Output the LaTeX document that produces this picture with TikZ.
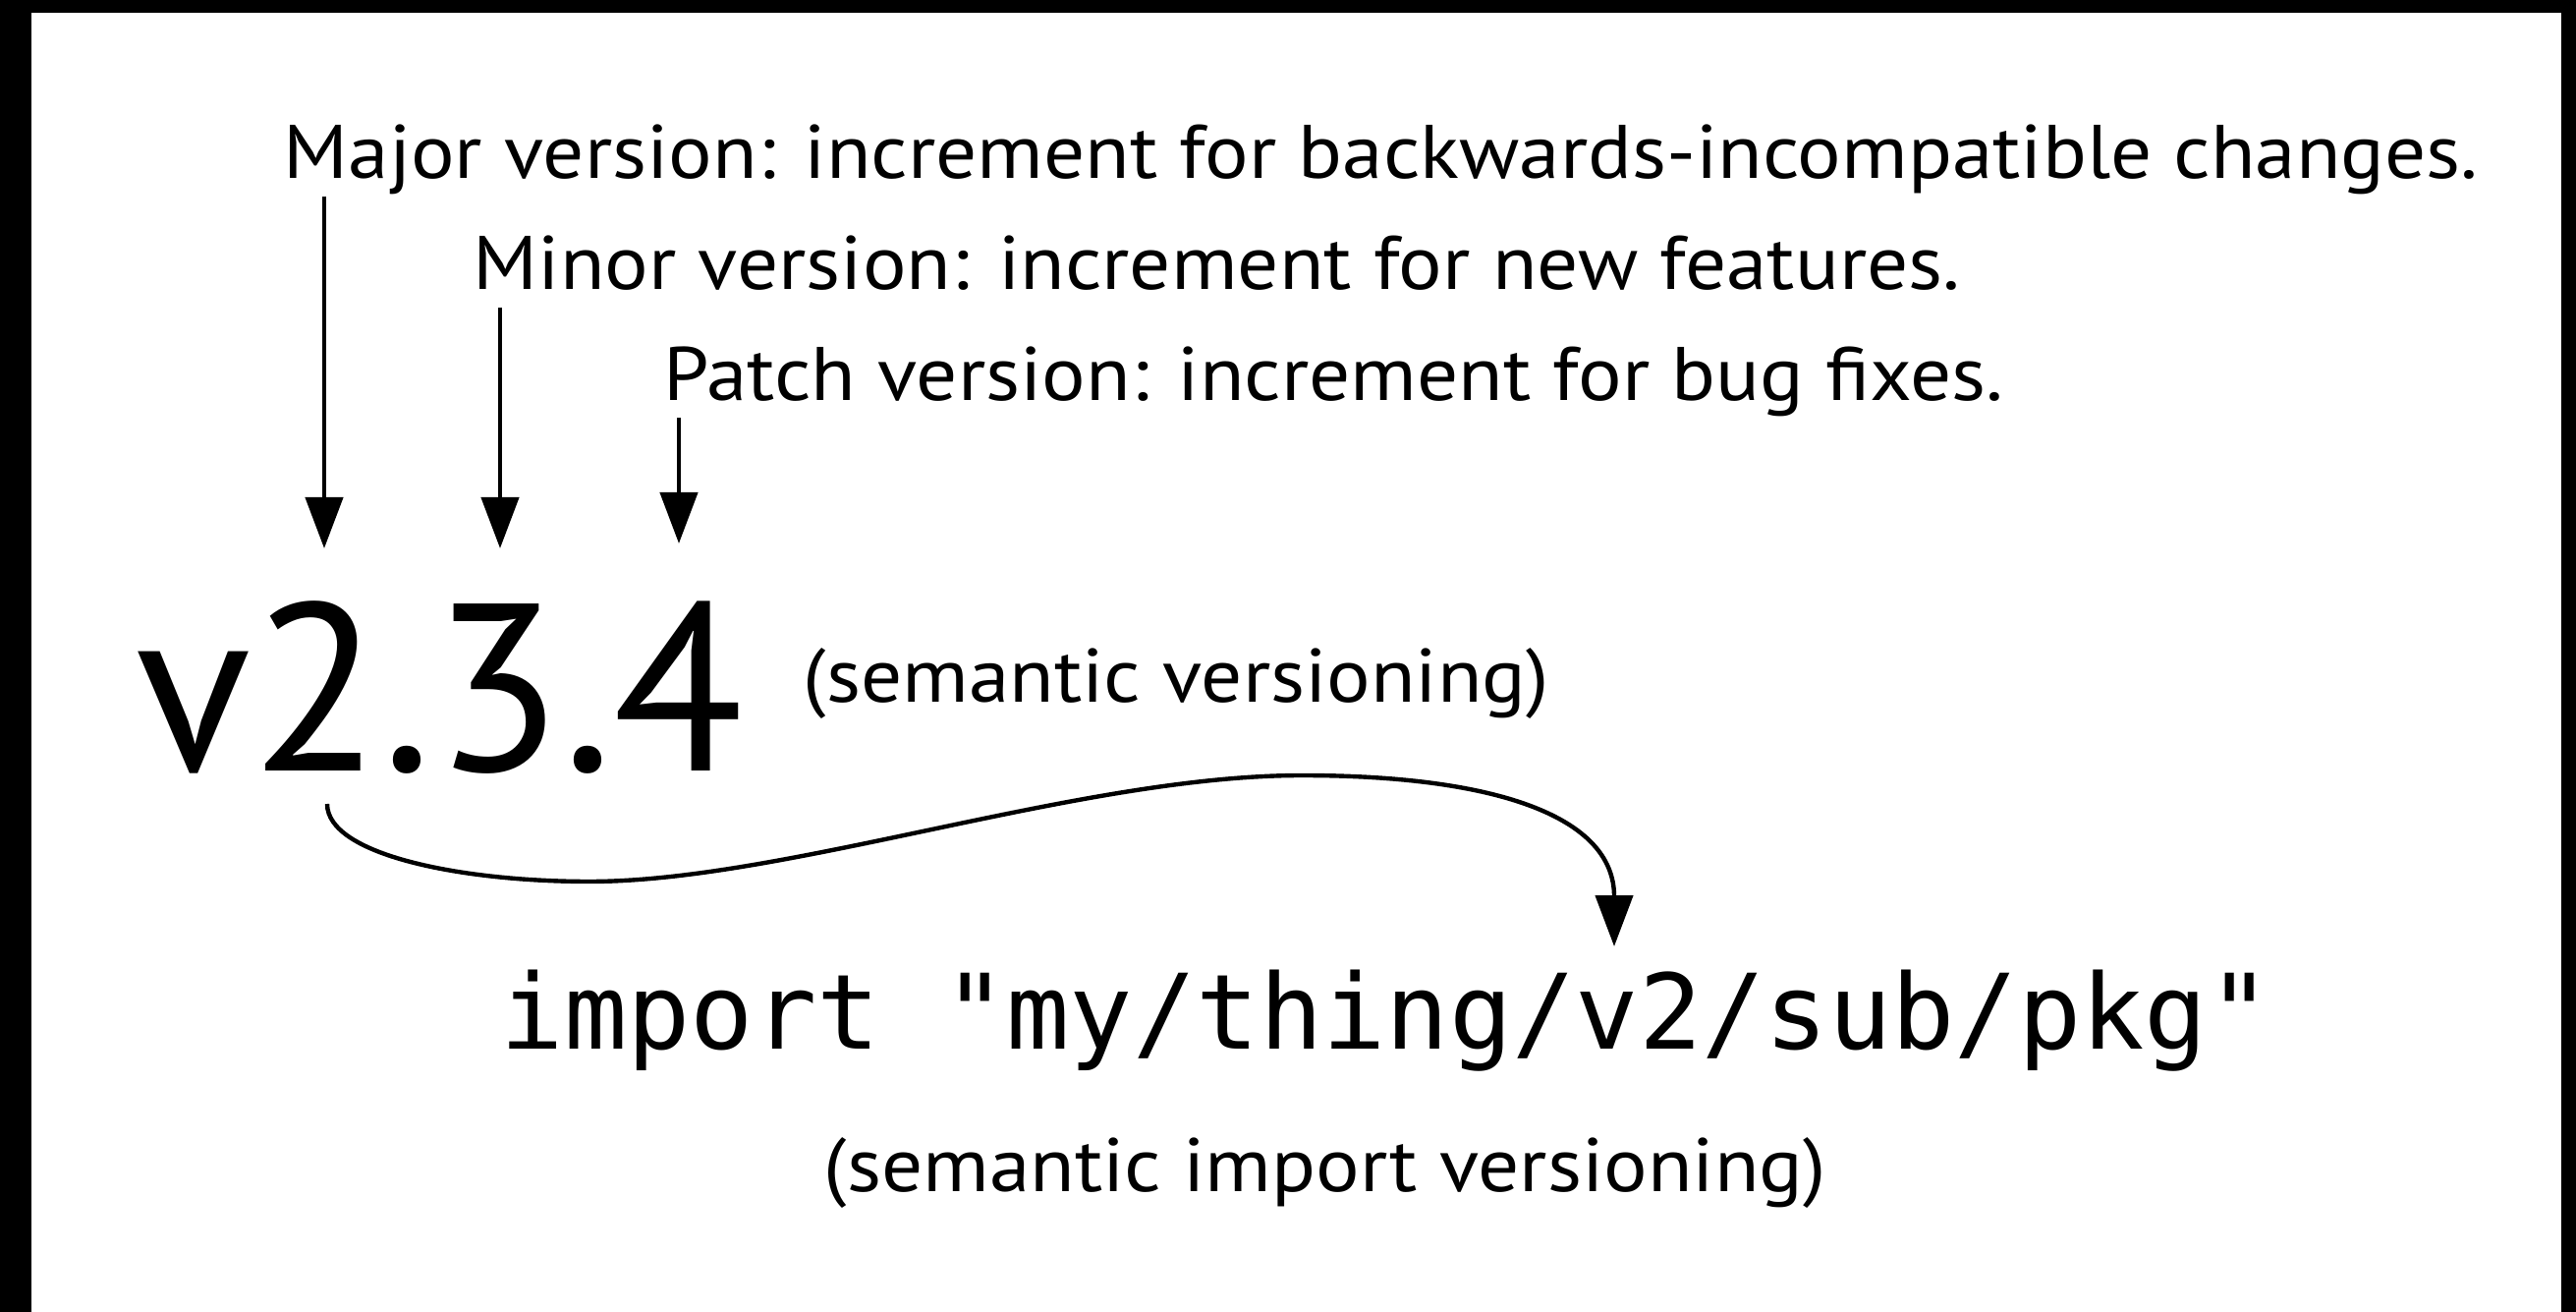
\documentclass[tikz,border=0pt]{standalone}
\usepackage{fontspec}
\usepackage{graphicx}
\setmainfont{PT Sans}
\newfontfamily\monof{DejaVu Sans Mono}
\usetikzlibrary{arrows.meta}
\newcommand\lblfont{\fontsize{19.3pt}{23pt}\selectfont}
\newlength\majnat
\begin{document}
\settowidth\majnat{\lblfont Major version: increment for backwards-incompatible changes.}%
\pgfmathsetmacro\sx{558.5/\majnat}%
\begin{tikzpicture}[x=0.25pt,y=-0.25pt,
  lbl/.style={inner sep=0pt, anchor=base west, font=\lblfont},
  big/.style={inner sep=0pt, anchor=base west, font=\fontsize{60.7pt}{70pt}\selectfont},
  code/.style={inner sep=0pt, anchor=base west, font=\monof\fontsize{26.5pt}{30pt}\selectfont},
  conn/.style={line width=1.1pt, -{Triangle[width=9.5pt,length=13pt]}}]
\useasboundingbox (0,0) rectangle (2622,1335);
\fill[white] (0,0) rectangle (2622,1335);
\fill[black] (0,0) rectangle (32,1335);
\fill[black] (0,0) rectangle (2622,13);
\fill[black] (2607,0) rectangle (2622,1335);

\node[lbl] (major) at (288,182) {\scalebox{\sx}[1]{Major version: increment for backwards-incompatible changes.}};
\node[lbl] (minor) at (481,295) {\scalebox{\sx}[1]{Minor version: increment for new features.}};
\node[lbl] (patch) at (675,408) {\scalebox{\sx}[1]{Patch version: increment for bug fixes.}};
\node[big] (ver) at (138,785) {v2.3.4};
\node[lbl] (sem) at (817,715) {\scalebox{\sx}[1]{(semantic versioning)}};
\node[code] (imp) at (509,1067) {\resizebox{450.5pt}{\height}{import "my/thing/v2/sub/pkg"}};
\node[lbl] (semimp) at (838,1212) {\scalebox{\sx}[1]{(semantic import versioning)}};

\coordinate (majS) at (330,200); \coordinate (majE) at (330,558);
\coordinate (minS) at (509,313); \coordinate (minE) at (509,558);
\coordinate (patS) at (691,425); \coordinate (patE) at (691,553);
\coordinate (cS) at (333,818); \coordinate (cE) at (1643,963);

\draw[conn] (majS) -- (majE);
\draw[conn] (minS) -- (minE);
\draw[conn] (patS) -- (patE);
\draw[conn] (cS) .. controls (333,870) and (470,897) .. (600,897)
  .. controls (800,897) and (1100,789) .. (1325,789)
  .. controls (1520,789) and (1643,830) .. (cE);
\end{tikzpicture}
\end{document}
